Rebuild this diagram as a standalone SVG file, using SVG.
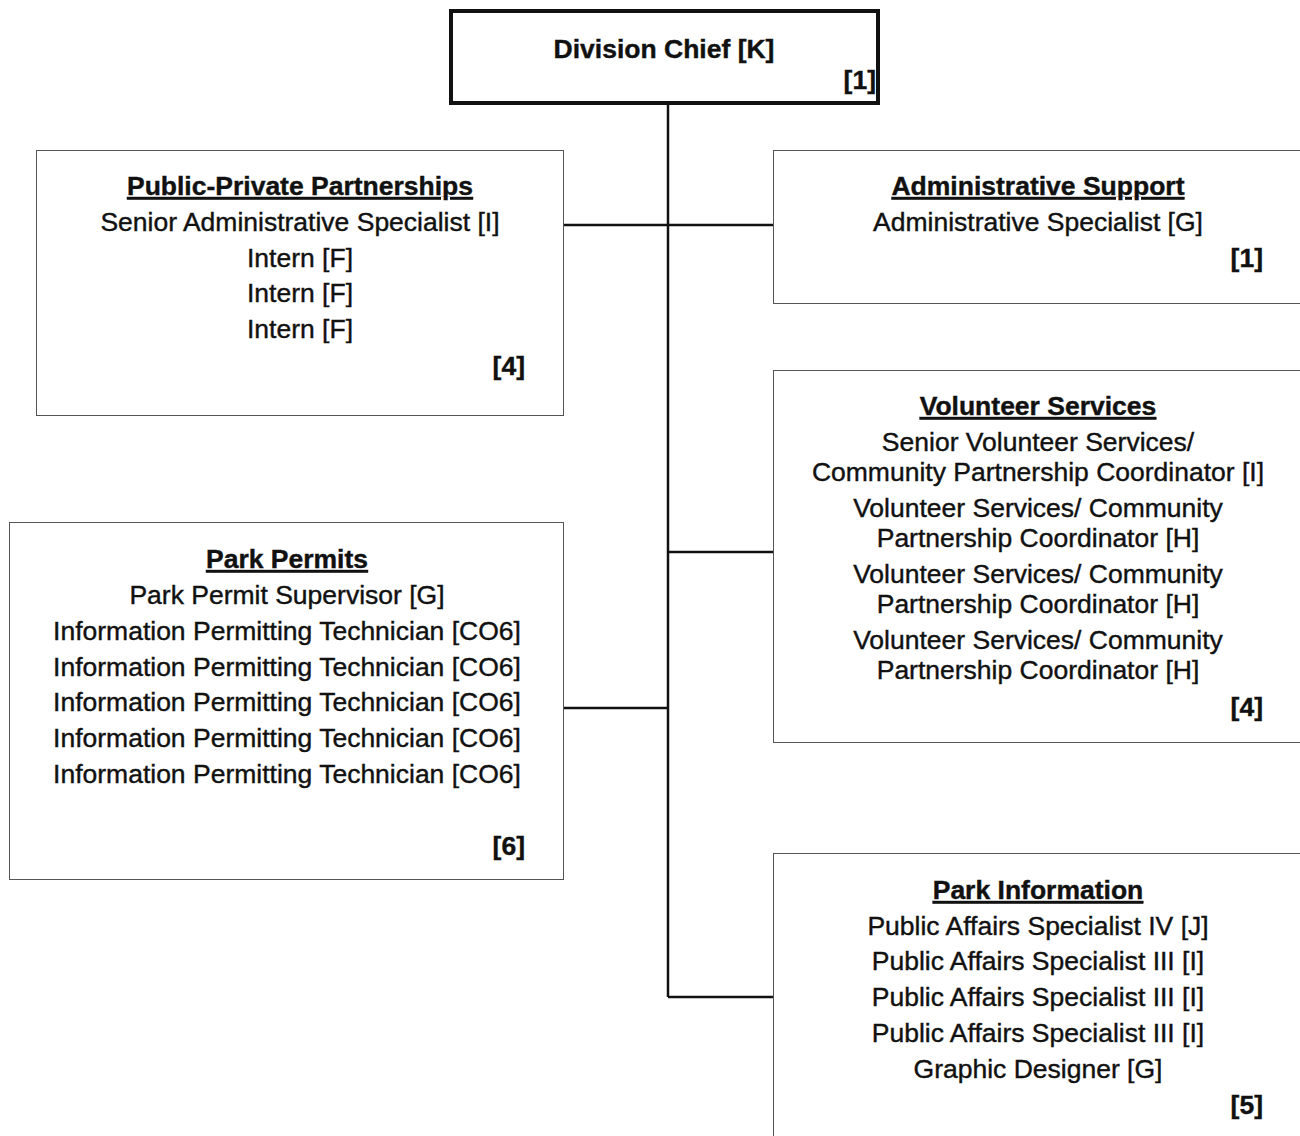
<svg xmlns="http://www.w3.org/2000/svg" width="1300" height="1136" viewBox="0 0 1300 1136">
  <style>
    .box { fill: #ffffff; stroke: #555555; stroke-width: 1; }
    .chief { fill: #ffffff; stroke: #111111; stroke-width: 4; }
    .link { fill: none; stroke: #111111; stroke-width: 2.5; }
    text { font-family: "Liberation Sans", Arial, sans-serif; font-size: 26.5px; fill: #111111; stroke: #111111; stroke-width: 0.4; }
    .c { text-anchor: middle; }
    .r { text-anchor: end; font-weight: bold; }
    .h { font-weight: bold; text-decoration: underline; text-anchor: middle; }
  </style>

  <!-- connectors -->
  <g id="connectors">
    <path class="link" d="M668 104 V997"/>
    <path class="link" d="M563 225 H773"/>
    <path class="link" d="M668 552 H773"/>
    <path class="link" d="M563 708 H668"/>
    <path class="link" d="M668 997 H773"/>
  </g>

  <!-- head of division -->
  <g id="division-chief">
    <rect class="chief" x="451" y="11" width="427" height="92"/>
    <text x="664" y="58" class="c" style="font-weight:bold">Division Chief [K]</text>
    <text x="876" y="89" class="r">[1]</text>
  </g>

  <g id="public-private-partnerships">
    <rect class="box" x="36.5" y="150.5" width="527" height="265"/>
    <text x="300" y="195" class="h">Public-Private Partnerships</text>
    <text x="300" y="231" class="c">Senior Administrative Specialist [I]</text>
    <text x="300" y="267" class="c">Intern [F]</text>
    <text x="300" y="302" class="c">Intern [F]</text>
    <text x="300" y="338" class="c">Intern [F]</text>
    <text x="525" y="375" class="r">[4]</text>
  </g>

  <g id="administrative-support">
    <rect class="box" x="773.5" y="150.5" width="540" height="153"/>
    <text x="1038" y="195" class="h">Administrative Support</text>
    <text x="1038" y="231" class="c">Administrative Specialist [G]</text>
    <text x="1263" y="267" class="r">[1]</text>
  </g>

  <g id="volunteer-services">
    <rect class="box" x="773.5" y="370.5" width="540" height="372"/>
    <text x="1038" y="415" class="h">Volunteer Services</text>
    <text x="1038" y="451" class="c">Senior Volunteer Services/</text>
    <text x="1038" y="481" class="c">Community Partnership Coordinator [I]</text>
    <text x="1038" y="517" class="c">Volunteer Services/ Community</text>
    <text x="1038" y="547" class="c">Partnership Coordinator [H]</text>
    <text x="1038" y="583" class="c">Volunteer Services/ Community</text>
    <text x="1038" y="613" class="c">Partnership Coordinator [H]</text>
    <text x="1038" y="649" class="c">Volunteer Services/ Community</text>
    <text x="1038" y="679" class="c">Partnership Coordinator [H]</text>
    <text x="1263" y="716" class="r">[4]</text>
  </g>

  <g id="park-permits">
    <rect class="box" x="9.5" y="522.5" width="554" height="357"/>
    <text x="287" y="568" class="h">Park Permits</text>
    <text x="287" y="604" class="c">Park Permit Supervisor [G]</text>
    <text x="287" y="640" class="c">Information Permitting Technician [CO6]</text>
    <text x="287" y="676" class="c">Information Permitting Technician [CO6]</text>
    <text x="287" y="711" class="c">Information Permitting Technician [CO6]</text>
    <text x="287" y="747" class="c">Information Permitting Technician [CO6]</text>
    <text x="287" y="783" class="c">Information Permitting Technician [CO6]</text>
    <text x="525" y="855" class="r">[6]</text>
  </g>

  <g id="park-information">
    <rect class="box" x="773.5" y="853.5" width="540" height="300"/>
    <text x="1038" y="899" class="h">Park Information</text>
    <text x="1038" y="935" class="c">Public Affairs Specialist IV [J]</text>
    <text x="1038" y="970" class="c">Public Affairs Specialist III [I]</text>
    <text x="1038" y="1006" class="c">Public Affairs Specialist III [I]</text>
    <text x="1038" y="1042" class="c">Public Affairs Specialist III [I]</text>
    <text x="1038" y="1078" class="c">Graphic Designer [G]</text>
    <text x="1263" y="1114" class="r">[5]</text>
  </g>
</svg>
